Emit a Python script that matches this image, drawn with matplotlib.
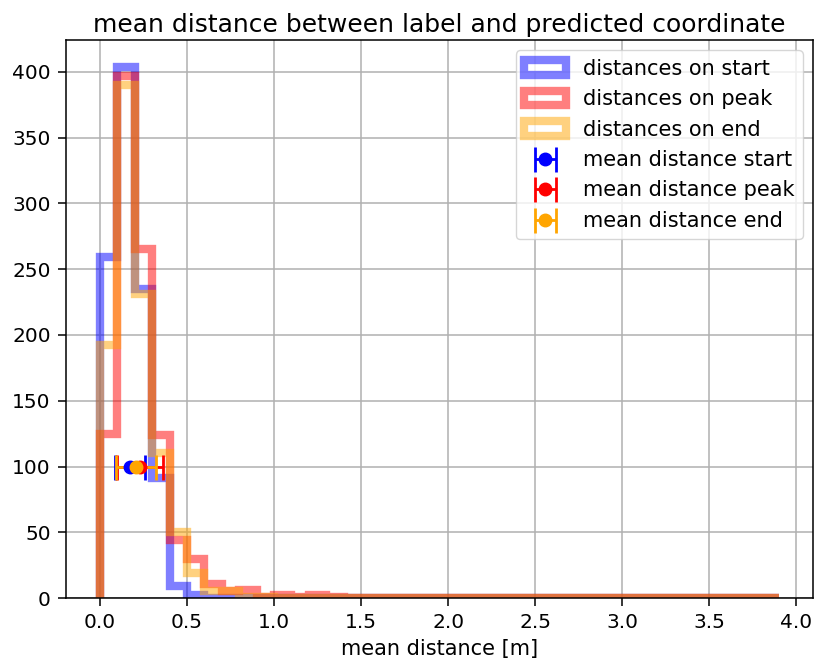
import matplotlib
matplotlib.use("Agg")
import matplotlib.pyplot as plt
import numpy as np

# shared bin edges 0.0 ... 3.9 (width 0.1)
edges = np.round(np.arange(0, 3.95, 0.1), 2)

# counts per bin
start_counts = [259, 404, 235, 91, 9, 2] + [0] * 33
peak_counts = [125, 397, 265, 124, 44, 30, 11, 5, 6, 1, 2, 1, 2, 1] + [0] * 25
end_counts = [192, 390, 231, 110, 50, 19, 5, 5, 1, 1] + [0] * 29

# mean distances and their spread
means = [0.172, 0.23, 0.207]
errs = [0.086, 0.13, 0.117]
mean_y = 100

hist_labels = ["distances on start", "distances on peak", "distances on end"]
mean_labels = ["mean distance start", "mean distance peak", "mean distance end"]
colors = ["blue", "red", "orange"]


def main():
    fig = plt.figure(figsize=(8.15, 6.66), dpi=100)
    ax = fig.add_axes([0.081, 0.102, 0.9165, 0.838])

    centers = (edges[:-1] + edges[1:]) / 2
    for counts, lab, c in zip([start_counts, peak_counts, end_counts], hist_labels, colors):
        ax.hist(centers, bins=edges, weights=counts, histtype="step",
                color=c, alpha=0.5, linewidth=6, label=lab)

    for m, e, lab, c in zip(means, errs, mean_labels, colors):
        ax.errorbar(m, mean_y, xerr=e, fmt="o", color=c, markersize=9,
                    capsize=9, elinewidth=2, capthick=2, label=lab)

    ax.grid(True, linewidth=1.1)
    ax.set_axisbelow(True)
    ax.tick_params(labelsize=14.5, width=1.1, length=6, pad=5)
    for s in ax.spines.values():
        s.set_linewidth(1.1)
    ax.set_xlabel("mean distance [m]", fontsize=15, labelpad=5)
    ax.set_title("mean distance between label and predicted coordinate", fontsize=18)
    ax.legend(loc="upper right", fontsize=15)

    fig.savefig("out.png", dpi=100)


if __name__ == "__main__":
    main()
